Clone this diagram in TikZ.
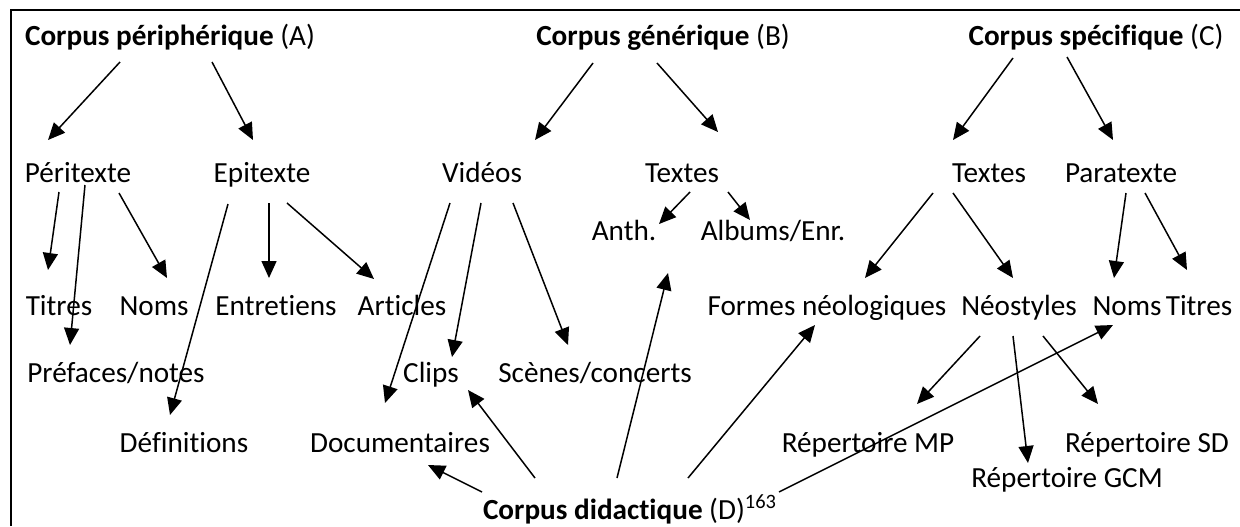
\documentclass[tikz,border=0pt]{standalone}
\usepackage{fontspec}
\setmainfont[Ligatures=NoCommon]{Carlito}
\usetikzlibrary{arrows.meta}

\tikzset{
  lbl/.style={anchor=base, inner sep=0pt, font=\fontsize{14.6}{17}\selectfont},
  arr/.style={-{Triangle[length=8.5pt,width=7.5pt]}, line width=0.75pt},
}

\begin{document}
\begin{tikzpicture}[x=0.5pt,y=-0.5pt]
\useasboundingbox (0,0) rectangle (1240,526);

%% frame
\draw[line width=1pt] (11,526) -- (11,10) -- (1240,10);

%% corpora
\node[lbl] (A) at (170,45) {\textbf{Corpus périphérique} (A)};
\node[lbl] (B) at (663,45) {\textbf{Corpus générique} (B)};
\node[lbl] (C) at (1096,45) {\textbf{Corpus spécifique} (C)};
\node[lbl] (D) at (630,519) {\textbf{Corpus didactique} (D)\textsuperscript{163}};

%% second level
\node[lbl] (peri) at (78,182) {Péritexte};
\node[lbl] (epi) at (262,182) {Epitexte};
\node[lbl] (vid) at (482,182) {Vidéos};
\node[lbl] (txtB) at (682,182) {Textes};
\node[lbl] (txtC) at (989,182) {Textes};
\node[lbl] (para) at (1121,182) {Paratexte};

%% leaves
\node[lbl] (anth) at (624,240) {Anth.};
\node[lbl] (alb) at (773,240) {Albums/Enr.};
\node[lbl] (titA) at (59,315) {Titres};
\node[lbl] (nomsA) at (154,315) {Noms};
\node[lbl] (entr) at (276,315) {Entretiens};
\node[lbl] (art) at (402,315) {Articles};
\node[lbl] (formes) at (827,315) {Formes néologiques};
\node[lbl] (neo) at (1019,315) {Néostyles};
\node[lbl] (nomsC) at (1127,315) {Noms};
\node[lbl] (titC) at (1199,315) {Titres};
\node[lbl] (pref) at (116,382) {Préfaces/notes};
\node[lbl] (clips) at (431,382) {Clips};
\node[lbl] (scenes) at (595,382) {Scènes/concerts};
\node[lbl] (defs) at (184,452) {Définitions};
\node[lbl] (docs) at (400,452) {Documentaires};
\node[lbl] (repMP) at (868,452) {Répertoire MP};
\node[lbl] (repSD) at (1147,452) {Répertoire SD};
\node[lbl] (repGCM) at (1067,487) {Répertoire GCM};

%% arrows A
\draw[arr] ([shift={(-50,17)}]A.base) -- ([shift={(-30,-42)}]peri.base);
\draw[arr] ([shift={(42,17)}]A.base) -- ([shift={(-9,-42)}]epi.base);
\draw[arr] ([shift={(-19,10)}]peri.base) -- ([shift={(-11,-45)}]titA.base);
\draw[arr] ([shift={(7,3)}]peri.base) -- ([shift={(-46,-37)}]pref.base);
\draw[arr] ([shift={(41,11)}]peri.base) -- ([shift={(13,-37)}]nomsA.base);
\draw[arr] ([shift={(-34,22)}]epi.base) -- ([shift={(-14,-37)}]defs.base);
\draw[arr] ([shift={(7,21)}]epi.base) -- ([shift={(-7,-37)}]entr.base);
\draw[arr] ([shift={(25,21)}]epi.base) -- ([shift={(-28,-36)}]art.base);

%% arrows B
\draw[arr] ([shift={(-70,18)}]B.base) -- ([shift={(53,-42)}]vid.base);
\draw[arr] ([shift={(-6,18)}]B.base) -- ([shift={(36,-50)}]txtB.base);
\draw[arr] ([shift={(-32,21)}]vid.base) -- ([shift={(-15,-49)}]docs.base);
\draw[arr] ([shift={(-1,21)}]vid.base) -- ([shift={(21,-25)}]clips.base);
\draw[arr] ([shift={(31,21)}]vid.base) -- ([shift={(-27,-37)}]scenes.base);
\draw[arr] ([shift={(8,10)}]txtB.base) -- ([shift={(35,-16)}]anth.base);
\draw[arr] ([shift={(46,10)}]txtB.base) -- ([shift={(-23,-20)}]alb.base);

%% arrows C
\draw[arr] ([shift={(-83,13)}]C.base) -- ([shift={(-36,-42)}]txtC.base);
\draw[arr] ([shift={(-29,12)}]C.base) -- ([shift={(-8,-42)}]para.base);
\draw[arr] ([shift={(-56,11)}]txtC.base) -- ([shift={(38,-37)}]formes.base);
\draw[arr] ([shift={(-36,11)}]txtC.base) -- ([shift={(-6,-37)}]neo.base);
\draw[arr] ([shift={(5,11)}]para.base) -- ([shift={(-13,-37)}]nomsC.base);
\draw[arr] ([shift={(24,11)}]para.base) -- ([shift={(-12,-45)}]titC.base);
\draw[arr] ([shift={(-39,21)}]neo.base) -- ([shift={(49,-48)}]repMP.base);
\draw[arr] ([shift={(-6,21)}]neo.base) -- ([shift={(-39,-24)}]repGCM.base);
\draw[arr] ([shift={(24,21)}]neo.base) -- ([shift={(-49,-48)}]repSD.base);

%% arrows D
\draw[arr] ([shift={(-148,-27)}]D.base) -- ([shift={(28,13)}]docs.base);
\draw[arr] ([shift={(-95,-41)}]D.base) -- ([shift={(37,8)}]clips.base);
\draw[arr] ([shift={(-13,-41)}]D.base) -- ([shift={(44,33)}]anth.base);
\draw[arr] ([shift={(58,-41)}]D.base) -- ([shift={(-12,10)}]formes.base);
\draw[arr] ([shift={(149,-27)}]D.base) -- ([shift={(-14,10)}]nomsC.base);

\end{tikzpicture}
\end{document}
